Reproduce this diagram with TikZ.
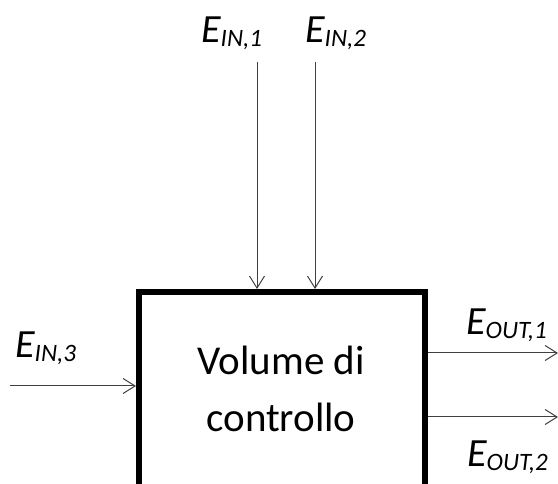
\documentclass[tikz,border=0pt]{standalone}
\usepackage{fontspec}
\setmainfont{Carlito}
\usetikzlibrary{arrows.meta}
\newcommand{\elab}[1]{{\fontsize{40}{40}\selectfont\itshape E}\raisebox{-0.4em}{\fontsize{25}{25}\selectfont\itshape #1}}
\begin{document}
\begin{tikzpicture}[x=1pt,y=-1pt,
  flow/.style={draw=black!75,line width=1pt,-{Straight Barb[length=12pt,width=15pt,line width=1pt]}},
  lab/.style={inner sep=0pt,anchor=base west}]
\useasboundingbox (0,0) rectangle (558,484);
\begin{scope}
\clip (0,0) rectangle (558,484);
\draw[line width=6pt] (139,292) rectangle (425,520);
\end{scope}
\node[font=\fontsize{41}{57}\selectfont,align=center,inner sep=0pt] (vc) at (281,389) {Volume di\\controllo};
\coordinate (t1) at (257,62);
\coordinate (t1e) at (257,289);
\coordinate (t2) at (315,62);
\coordinate (t2e) at (315,289);
\coordinate (l3) at (10,386);
\coordinate (l3e) at (136,386);
\coordinate (o1) at (428,353);
\coordinate (o1e) at (558,353);
\coordinate (o2) at (428,417);
\coordinate (o2e) at (558,417);
\draw[flow] (t1) -- (t1e);
\draw[flow] (t2) -- (t2e);
\draw[flow] (l3) -- (l3e);
\draw[flow] (o1) -- (o1e);
\draw[flow] (o2) -- (o2e);
\node[lab] (ein1) at (201,43) {\elab{IN,1}};
\node[lab] (ein2) at (305,43) {\elab{IN,2}};
\node[lab] (ein3) at (15,358) {\elab{IN,3}};
\node[lab] (eout1) at (466,335) {\elab{OUT,1}};
\node[lab] (eout2) at (467,467) {\elab{OUT,2}};
\end{tikzpicture}
\end{document}
